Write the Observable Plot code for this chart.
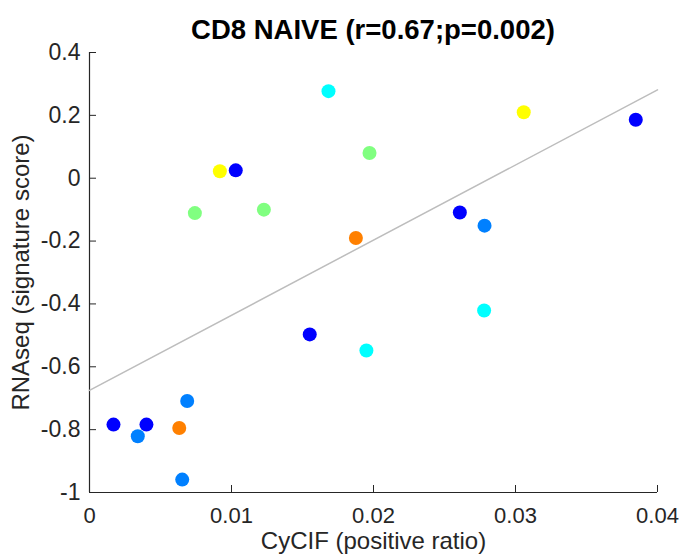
<!DOCTYPE html>
<html><head><meta charset="utf-8">
<script src="https://cdn.jsdelivr.net/npm/d3@7"></script>
<script src="https://cdn.jsdelivr.net/npm/@observablehq/plot@0.6"></script>
<style>
body{margin:0;background:#fff;font-family:"Liberation Sans",Arial,Helvetica,sans-serif}
#title{width:568px;margin-left:89px;height:40px;box-sizing:border-box;padding-top:17px;line-height:26px;text-align:center;font-weight:bold;font-size:27.5px;color:#000;white-space:nowrap}
#chart svg{display:block}
</style></head><body>
<div id="title">CD8 NAIVE (r=0.67;p=0.002)</div>
<div id="chart"></div>
<script>
const xValues = [0.00169, 0.0034, 0.00401, 0.00632, 0.00688, 0.00653, 0.00918, 0.0103, 0.00742, 0.01228,
                 0.01876, 0.01551, 0.0195, 0.01972, 0.01683, 0.03058, 0.03847, 0.02608, 0.02782, 0.02779];
const yValues = [-0.784, -0.821, -0.784, -0.795, -0.709, -0.959, 0.022, 0.025, -0.111, -0.100,
                 -0.190, -0.497, -0.548, 0.080, 0.277, 0.210, 0.186, -0.109, -0.151, -0.421];
const groups  = ["G1", "G2", "G1", "G6", "G2", "G2", "G5", "G1", "G4", "G4",
                 "G6", "G1", "G3", "G4", "G3", "G5", "G1", "G1", "G2", "G3"];
const groupNames = ["G1", "G2", "G3", "G4", "G5", "G6"];
const groupColors = ["#0000ff", "#0080ff", "#00ffff", "#80ff80", "#ffff00", "#ff8000"];
const fitX = [0, 0.04];
const fitY = [-0.675, 0.281];
const xTicks = [0, 0.01, 0.02, 0.03, 0.04];
const yTicks = [-1, -0.8, -0.6, -0.4, -0.2, 0, 0.2, 0.4];
const xLabel = "CyCIF (positive ratio)";
const yLabel = "RNAseq (signature score)";

const points = xValues.map((x, i) => ({x, y: yValues[i], g: groups[i]}));
const fit = fitX.map((x, i) => ({x, y: fitY[i]}));
const axisColor = "#262626";

const chart = Plot.plot({
  width: 685, height: 519,
  marginTop: 12, marginBottom: 67, marginLeft: 89, marginRight: 28,
  style: {fontFamily: '"Liberation Sans", Arial, sans-serif', background: "#fff"},
  x: {domain: [0, 0.04]},
  y: {domain: [-1, 0.4]},
  color: {type: "ordinal", domain: groupNames, range: groupColors},
  marks: [
    Plot.axisX(xTicks, {tickSize: 0, tickPadding: 15, fontSize: 22, fill: axisColor, label: null, tickFormat: d => String(+d.toFixed(2))}),
    Plot.axisY(yTicks, {tickSize: 0, tickPadding: 9, fontSize: 23, fill: axisColor, label: null, tickFormat: d => String(+d.toFixed(1))}),
    Plot.ruleX(xTicks, {x: d => d, insetTop: 433, stroke: axisColor, strokeWidth: 1}),
    Plot.ruleY(yTicks, {y: d => d, insetRight: 561, stroke: axisColor, strokeWidth: 1}),
    Plot.ruleX([0], {stroke: axisColor, strokeWidth: 1.2}),
    Plot.ruleY([-1], {stroke: axisColor, strokeWidth: 1.2}),
    Plot.line(fit, {x: "x", y: "y", stroke: "#bdbdbd", strokeWidth: 1.5}),
    Plot.dot(points, {x: "x", y: "y", fill: "g", r: 7, stroke: null}),
    Plot.text([xLabel], {text: d => d, frameAnchor: "bottom", textAnchor: "middle", dy: 56, fontSize: 24, fill: axisColor}),
    Plot.text([yLabel], {text: d => d, frameAnchor: "left", textAnchor: "middle", rotate: -90, dx: -68, fontSize: 24, fill: axisColor})
  ]
});
document.getElementById("chart").appendChild(chart);
</script>
</body></html>
